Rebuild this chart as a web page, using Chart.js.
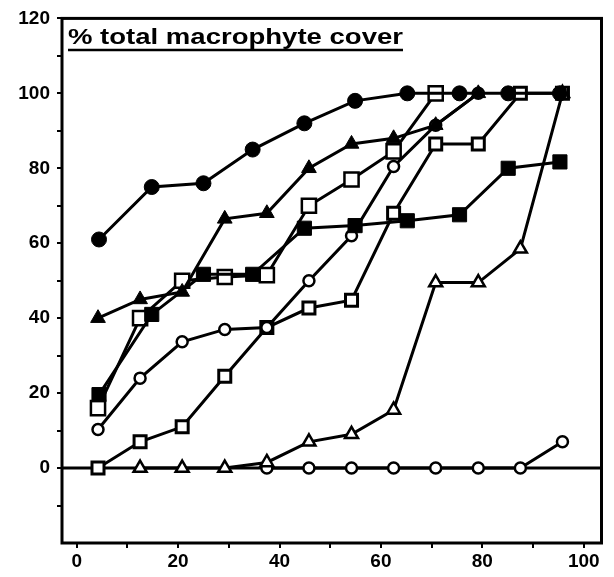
<!DOCTYPE html>
<html>
<head>
<meta charset="utf-8">
<script src="https://cdn.jsdelivr.net/npm/chart.js@4"></script>
<style>
  html, body { margin: 0; padding: 0; background: #fff; }
  #wrap { width: 614px; height: 577px; }
</style>
</head>
<body>
<div id="wrap"><canvas id="c" width="614" height="577"></canvas></div>
<script>
// Sampling positions (two sampling schemes)
const xEven = [4.2, 12.5, 20.8, 29.2, 37.5, 45.8, 54.2, 62.5, 70.8, 79.2, 87.5, 95.8];
const xTen  = [4.4, 14.8, 25.0, 34.7, 44.9, 54.9, 65.2, 75.5, 85.1, 95.3];

// Cover values (%) per site
const filledCircle   = [61, 75, 76, 85, 92, 98, 100, 100, 100, 100];
const filledSquare   = [19.6, 41, 51.7, 51.7, 64, 64.7, 66, 67.6, 80, 81.7];
const filledTriangle = [40, 45, 47, 66.5, 68, 80, 86.5, 88, 91.5, 100];
const openSquareBig  = [16, 40, 50, 51, 51.5, 70, 77, 84.5, 100];
const openCircle     = [10.3, 24, 33.7, 37, 37.5, 50, 62, 80.5, 91.5, 100];
const openSquare     = [0, 7, 11, 24.5, 37.5, 42.7, 44.8, 68, 86.5, 86.5, 100, 100];
const openTriangle   = [null, 0, 0, 0, 1.5, 7, 9, 15.5, 49.5, 49.5, 58.5, 100];
const openCircleLow  = [null, null, null, null, 0, 0, 0, 0, 0, 0, 0, 7];

// Axis ticks
const xTickValues = [0, 10, 20, 30, 40, 50, 60, 70, 80, 90, 100];
const yTickValues = [-10, 0, 10, 20, 30, 40, 50, 60, 70, 80, 90, 100, 110, 120];
const titleText = '% total macrophyte cover';

function pts(xs, ys) {
  return ys.map((y, i) => ({ x: xs[i], y: y })).filter(p => p.y !== null);
}

function series(xs, ys, style, filled, radius, bw) {
  return {
    data: pts(xs, ys),
    borderColor: '#000',
    borderWidth: 3,
    pointStyle: style,
    pointRadius: radius,
    pointHoverRadius: radius,
    pointBorderWidth: bw,
    pointBorderColor: '#000',
    pointBackgroundColor: filled ? '#000' : '#fff',
    tension: 0,
    fill: false
  };
}

const frameAndZero = {
  id: 'frameAndZero',
  beforeDatasetsDraw(chart) {
    const { ctx, chartArea: a, scales } = chart;
    const y0 = scales.y.getPixelForValue(0);
    ctx.save();
    ctx.strokeStyle = '#000';
    ctx.lineWidth = 3;
    ctx.beginPath();
    ctx.moveTo(a.left, y0);
    ctx.lineTo(a.right, y0);
    ctx.stroke();
    ctx.restore();
  },
  afterDraw(chart) {
    const { ctx, chartArea: a } = chart;
    ctx.save();
    ctx.strokeStyle = '#000';
    ctx.lineWidth = 3;
    ctx.strokeRect(a.left, a.top, a.right - a.left, a.bottom - a.top);
    // underlined heading inside the plot
    ctx.font = 'bold 22px "Liberation Sans", Arial, sans-serif';
    ctx.fillStyle = '#000';
    ctx.textBaseline = 'alphabetic';
    const w = ctx.measureText(titleText).width;
    const target = 335;
    const x0 = a.left + 6, base = 44;
    ctx.save();
    ctx.translate(x0, base);
    ctx.scale(target / w, 1);
    ctx.fillText(titleText, 0, 0);
    ctx.restore();
    ctx.lineWidth = 2.5;
    ctx.beginPath();
    ctx.moveTo(x0, base + 6);
    ctx.lineTo(x0 + target, base + 6);
    ctx.stroke();
    ctx.restore();
  }
};

const tickFont = { family: '"Liberation Sans", Arial, sans-serif', size: 19, weight: 'bold' };

new Chart(document.getElementById('c'), {
  type: 'line',
  data: {
    datasets: [
      series(xTen,  filledCircle,   'circle',   true,  7.5, 1),
      series(xEven, filledTriangle, 'triangle', true,  8.5, 1),
      series(xTen,  filledSquare,   'rect',     true,  10,  1),
      series(xEven, openSquareBig,  'rect',     false, 10,  2.5),
      series(xEven, openCircle,     'circle',   false, 5.5, 2.5),
      series(xEven, openSquare,     'rect',     false, 8.5, 3),
      series(xEven, openTriangle,   'triangle', false, 7.5, 2.5),
      series(xEven, openCircleLow,  'circle',   false, 5.5, 2.5)
    ]
  },
  options: {
    responsive: false,
    animation: false,
    devicePixelRatio: 1,
    layout: { padding: { top: 15, right: 9, left: 0, bottom: 0 } },
    plugins: { legend: { display: false }, tooltip: { enabled: false } },
    scales: {
      x: {
        type: 'linear',
        min: -2.9,
        max: 103.5,
        afterBuildTicks: s => { s.ticks = xTickValues.map(v => ({ value: v })); },
        afterFit: s => { s.height = 34; },
        ticks: {
          autoSkip: false,
          maxRotation: 0,
          color: '#000',
          font: tickFont,
          padding: 2,
          callback: v => (v % 20 === 0 ? String(v) : '')
        },
        grid: { drawOnChartArea: false, tickLength: 5, color: '#000', lineWidth: 2 },
        border: { display: false }
      },
      y: {
        type: 'linear',
        min: -20,
        max: 120,
        afterBuildTicks: s => { s.ticks = yTickValues.map(v => ({ value: v })); },
        afterFit: s => { s.width = 62; },
        ticks: {
          autoSkip: false,
          color: '#000',
          font: tickFont,
          padding: 7,
          callback: v => (v >= 0 && v % 20 === 0 ? String(v) : '')
        },
        grid: { drawOnChartArea: false, tickLength: 5, color: '#000', lineWidth: 2 },
        border: { display: false }
      }
    }
  },
  plugins: [frameAndZero]
});
</script>
</body>
</html>
